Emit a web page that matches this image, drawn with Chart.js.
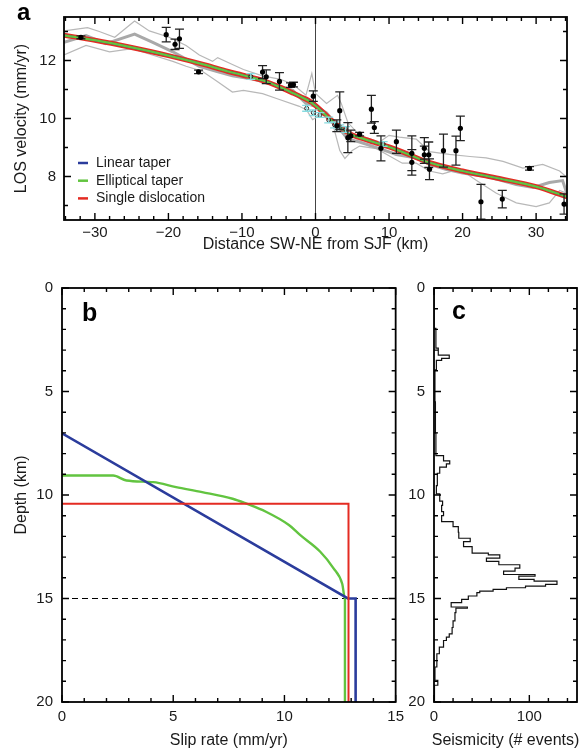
<!DOCTYPE html>
<html lang="en">
  <head>
    <meta charset="UTF-8" />
    <title>SJF slip models</title>
    <script src="https://cdn.jsdelivr.net/npm/chart.js@4.4.0/dist/chart.umd.min.js"></script>
    <style>
      html,
      body {
        margin: 0;
        padding: 0;
        background: #fff;
      }
      .wrap {
        position: relative;
        width: 587px;
        height: 754px;
      }
      canvas {
        position: absolute;
      }
      #chartA { left: 0; top: 0; }
      #chartB { left: 0; top: 270px; }
      #chartC { left: 405px; top: 270px; }
    </style>
  </head>
  <body>
    <div class="wrap">
      <canvas id="chartA" width="587" height="258"></canvas>
      <canvas id="chartB" width="410" height="484"></canvas>
      <canvas id="chartC" width="182" height="484"></canvas>
    </div>
    <script>
      // ---- panel a : LOS velocity profile across the fault ----
      const modelX = [-34.2, -30, -25, -20, -15, -12, -10, -7, -5, -3, -2, -1, 0, 1, 2, 3, 4, 5, 6, 8, 10, 12, 15, 20, 25, 30, 34.2];
      const linearV = [12.87, 12.7, 12.45, 12.17, 11.85, 11.63, 11.5, 11.3, 11.1, 10.87, 10.75, 10.63, 10.45, 10.22, 9.97, 9.76, 9.57, 9.43, 9.34, 9.18, 9.02, 8.83, 8.52, 8.19, 7.93, 7.65, 7.3];
      const ellipV = [12.87, 12.7, 12.45, 12.17, 11.85, 11.63, 11.5, 11.3, 11.1, 10.87, 10.75, 10.62, 10.44, 10.21, 9.97, 9.76, 9.57, 9.43, 9.34, 9.18, 9.02, 8.83, 8.52, 8.19, 7.93, 7.65, 7.3];
      const singleV = [12.87, 12.7, 12.45, 12.17, 11.85, 11.63, 11.5, 11.3, 11.1, 10.87, 10.75, 10.63, 10.45, 10.22, 9.98, 9.77, 9.58, 9.43, 9.34, 9.18, 9.02, 8.83, 8.52, 8.19, 7.93, 7.65, 7.3];

      // grey profiles: mean (thick) and envelope (thin)
      const meanX = [-34.2, -31.2, -28.5, -24.6, -22.2, -19.4, -15.8, -13.5, -11.3, -8.6, -5.8, -3.1, -1.3, 0, 1.5, 3.3, 4.4, 6, 8.7, 11, 13.7, 15.5, 17.7, 20, 23.6, 27.3, 29.6, 31.8, 33.6, 34.2];
      const meanV = [12.63, 12.86, 12.58, 12.91, 12.63, 12.3, 11.8, 11.63, 11.47, 11.36, 11.19, 10.97, 10.52, 10.42, 10.19, 9.64, 9.29, 9.19, 8.96, 8.76, 8.64, 8.42, 8.25, 8.12, 7.98, 7.72, 7.62, 7.79, 7.86, 7.4];
      const upperX = [-34.2, -31, -29.4, -27.3, -24.6, -22.6, -19.9, -17.6, -15.8, -14, -13.3, -11.3, -9.8, -7.2, -4.9, -3.1, -1.3, -0.5, 0, 1.5, 3, 3.5, 4.4, 6, 8.7, 10, 11.4, 13.7, 15.5, 18.2, 21, 23.2, 25.5, 28.2, 30.9, 33.2, 34.2];
      const upperV = [13.02, 13.13, 13.0, 12.8, 13.36, 13.02, 12.8, 12.52, 12.19, 11.97, 12.1, 11.86, 11.69, 11.47, 11.36, 11.19, 10.8, 11.55, 10.86, 10.52, 10.8, 10.52, 9.86, 9.42, 9.19, 9.42, 9.36, 9.29, 8.86, 8.76, 8.69, 8.64, 8.52, 8.29, 8.42, 8.19, 7.96];
      const lowerX = [-34.2, -31.2, -28, -24.9, -22.2, -19.4, -17.6, -15.4, -13.5, -11.3, -9.8, -7.2, -5.3, -2.2, -1.2, -0.4, 1, 2.3, 3.3, 4, 5, 6, 8.3, 9.7, 11.8, 13.7, 15.5, 17.3, 19.6, 21.9, 24.6, 27.3, 30, 31.8, 33.2, 34.2];
      const lowerV = [12.19, 12.52, 12.3, 12.41, 12.19, 11.97, 11.8, 11.63, 11.3, 10.91, 10.97, 10.86, 10.69, 10.42, 10.29, 9.96, 10.19, 9.86, 8.9, 8.62, 8.9, 9.05, 8.96, 8.76, 8.46, 8.46, 8.19, 8.09, 8.26, 7.86, 7.42, 7.09, 6.96, 7.09, 7.52, 7.42];

      // GPS-like points with 1-sigma errors
      const ptX = [-31.9, -20.3, -19.1, -18.5, -15.9, -7.2, -6.7, -4.9, -3.4, -3.0, -0.3, 2.9, 3.3, 4.4, 4.8, 6.0, 7.6, 8.0, 8.9, 11.0, 13.1, 13.1, 14.8, 14.8, 15.4, 15.5, 17.4, 19.1, 19.7, 22.5, 25.4, 29.1, 33.8];
      const ptV = [12.8, 12.89, 12.56, 12.75, 11.61, 11.6, 11.44, 11.28, 11.15, 11.17, 10.77, 9.75, 10.27, 9.34, 9.4, 9.46, 10.32, 9.69, 8.97, 9.2, 8.8, 8.49, 8.97, 8.75, 8.75, 8.25, 8.89, 8.89, 9.66, 7.13, 7.22, 8.28, 7.05];
      const ptErr = [0.05, 0.25, 0.18, 0.33, 0.06, 0.22, 0.24, 0.3, 0.08, 0.08, 0.18, 0.2, 0.65, 0.52, 0.2, 0.06, 0.48, 0.2, 0.43, 0.4, 0.6, 0.44, 0.37, 0.3, 0.44, 0.36, 0.57, 0.5, 0.42, 0.6, 0.3, 0.06, 0.35];
      // cyan points
      const cyX = [-8.8, -1.2, -0.3, 0.6, 1.8, 2.6, 3.3, 4.1, 9.2];
      const cyV = [11.45, 10.35, 10.2, 10.12, 9.95, 9.78, 9.7, 9.62, 9.12];
      const cyErr = [0.1, 0.1, 0.1, 0.08, 0.1, 0.1, 0.08, 0.1, 0.08];

      const aXTicks = [-30, -20, -10, 0, 10, 20, 30];
      const aYTicks = [8, 10, 12];
      const legendNames = ["Linear taper", "Elliptical taper", "Single dislocation"];

      // ---- panel b : slip rate vs depth ----
      const linDepth = [7.02, 15.0, 15.0, 20];
      const linSlip = [0, 12.85, 13.2, 13.2];
      const ellDepth = [9.06, 9.06, 9.3, 9.38, 9.62, 9.86, 10.18, 10.41, 10.81, 11.45, 11.93, 12.73, 13.53, 14.3, 15.0, 20];
      const ellSlip = [0, 2.3, 2.9, 4.1, 5.13, 6.3, 7.67, 8.27, 9.17, 10.2, 10.7, 11.6, 12.2, 12.6, 12.72, 12.72];
      const sglDepth = [10.42, 10.42, 20];
      const sglSlip = [0, 12.88, 12.88];
      const lockDepth = 15;
      const bXTicks = [0, 5, 10, 15];
      const depthTicks = [0, 5, 10, 15, 20];

      // ---- panel c : seismicity histogram (bin top depth, # events) ----
      const seisTop = [0, 1.95, 2.9, 3.24, 3.4, 3.5, 3.95, 5.5, 7.0, 8.1, 8.35, 8.5, 8.65, 8.95, 9.55, 9.95, 10.3, 10.5, 10.8, 11.0, 11.29, 11.53, 11.8, 12.09, 12.25, 12.49, 12.81, 12.89, 13.05, 13.21, 13.37, 13.53, 13.68, 13.84, 13.92, 14.08, 14.16, 14.32, 14.4, 14.48, 14.56, 14.64, 14.72, 14.88, 15.04, 15.2, 15.41, 15.47, 15.68, 16.08, 16.4, 16.71, 16.87, 17.03, 17.35, 17.67, 18.31, 18.95, 19.19, 20];
      const seisCount = [0, 2, 4.5, 16, 8, 2.5, 1, 1.5, 2, 10, 16.5, 13, 6, 3.5, 2.5, 6, 9, 8, 10, 8, 20, 25.5, 26, 38, 31, 40, 57, 69, 55, 68, 90, 85, 73, 106, 89, 105, 129, 117, 96, 76, 62, 48, 45, 36, 29, 18, 35, 23, 22, 20, 19, 16, 13, 10, 5.6, 3, 1, 4, 0.5, 0.5];
      const cXTicks = [0, 100];

      const BLUE = "#2b3c9c";
      const GREEN = "#62c440";
      const RED = "#e42b22";

      Chart.defaults.font.family = "'Liberation Sans', Arial, Helvetica, sans-serif";
      Chart.defaults.color = "#1a1a1a";

      const pairs = (xs, ys) => xs.map((x, i) => ({ x: x, y: ys[i] }));
      const minus = (v) => (v < 0 ? "\u2212" + Math.abs(v) : String(v));
      const fixTicks = (list) => (scale) => {
        scale.ticks = list.map((v) => ({ value: v }));
      };

      // box round the plot with inward ticks on all four sides
      const framePlugin = {
        id: "frame",
        afterDatasetsDraw(chart, args, o) {
          const { ctx, chartArea: a } = chart;
          const sx = chart.scales.x;
          const sy = chart.scales.y;
          ctx.save();
          ctx.strokeStyle = "#000";
          ctx.lineWidth = 1.4;
          ctx.beginPath();
          for (let k = Math.ceil(sx.min / o.xStep - 1e-9); k * o.xStep <= sx.max + 1e-9; k++) {
            const v = k * o.xStep;
            const p = sx.getPixelForValue(v);
            const len = Math.abs(v % o.xMajor) < 1e-9 ? 7 : 4;
            ctx.moveTo(p, a.bottom);
            ctx.lineTo(p, a.bottom - len);
            ctx.moveTo(p, a.top);
            ctx.lineTo(p, a.top + len);
          }
          for (let k = Math.ceil(sy.min / o.yStep - 1e-9); k * o.yStep <= sy.max + 1e-9; k++) {
            const v = k * o.yStep;
            const p = sy.getPixelForValue(v);
            const len = Math.abs(v % o.yMajor) < 1e-9 ? 7 : 4;
            ctx.moveTo(a.left, p);
            ctx.lineTo(a.left + len, p);
            ctx.moveTo(a.right, p);
            ctx.lineTo(a.right - len, p);
          }
          ctx.stroke();
          ctx.lineWidth = 1.8;
          ctx.strokeRect(a.left, a.top, a.right - a.left, a.bottom - a.top);
          ctx.restore();
        },
      };
      Chart.register(framePlugin);

      const baseScale = {
        type: "linear",
        grid: { display: false, drawTicks: false, tickLength: 0 },
        border: { display: false },
      };

      // ================= panel a =================
      const decorA = {
        id: "decorA",
        beforeDatasetsDraw(chart) {
          const { ctx, chartArea: a, scales } = chart;
          const p0 = scales.x.getPixelForValue(0);
          ctx.save();
          ctx.strokeStyle = "#444";
          ctx.lineWidth = 1;
          ctx.beginPath();
          ctx.moveTo(p0, a.top);
          ctx.lineTo(p0, a.bottom);
          ctx.stroke();
          ctx.restore();
        },
        beforeDatasetDraw(chart, args) {
          if (args.index !== 0) return;
          const { ctx, chartArea: a, scales } = chart;
          const bars = (xs, ys, es, color) => {
            ctx.strokeStyle = color;
            ctx.beginPath();
            xs.forEach((x, i) => {
              const px = scales.x.getPixelForValue(x);
              const t = scales.y.getPixelForValue(ys[i] + es[i]);
              const b = scales.y.getPixelForValue(ys[i] - es[i]);
              ctx.moveTo(px, t);
              ctx.lineTo(px, b);
              ctx.moveTo(px - 4.5, t);
              ctx.lineTo(px + 4.5, t);
              ctx.moveTo(px - 4.5, b);
              ctx.lineTo(px + 4.5, b);
            });
            ctx.stroke();
          };
          ctx.save();
          ctx.beginPath();
          ctx.rect(a.left, a.top, a.right - a.left, a.bottom - a.top);
          ctx.clip();
          ctx.lineWidth = 1.3;
          bars(cyX, cyV, cyErr, "#86dbe0");
          bars(ptX, ptV, ptErr, "#222");
          ctx.restore();
        },
        afterDraw(chart) {
          const { ctx } = chart;
          ctx.save();
          // legend
          const colors = [BLUE, GREEN, RED];
          ctx.font = "14px 'Liberation Sans', Arial, sans-serif";
          ctx.textBaseline = "middle";
          ctx.fillStyle = "#1a1a1a";
          legendNames.forEach((name, i) => {
            const y = 163 + i * 17.7;
            ctx.strokeStyle = colors[i];
            ctx.lineWidth = 2.5;
            ctx.beginPath();
            ctx.moveTo(78, y);
            ctx.lineTo(88, y);
            ctx.stroke();
            ctx.fillText(name, 96, y);
          });
          ctx.font = "bold 24px 'Liberation Sans', Arial, sans-serif";
          ctx.textBaseline = "alphabetic";
          ctx.fillStyle = "#000";
          ctx.fillText("a", 17, 20);
          ctx.restore();
        },
      };

      new Chart(document.getElementById("chartA"), {
        type: "scatter",
        data: {
          datasets: [
            { label: "data", data: pairs(ptX, ptV), pointRadius: 2.6, pointBackgroundColor: "#000", pointBorderWidth: 0 },
            { label: "cyan", data: pairs(cyX, cyV), pointRadius: 2, pointBackgroundColor: "rgba(0,0,0,0)", pointBorderColor: "#222", pointBorderWidth: 1 },
            { label: legendNames[1], data: pairs(modelX, ellipV), showLine: true, borderColor: GREEN, borderWidth: 2.2, pointRadius: 0, cubicInterpolationMode: "monotone" },
            { label: legendNames[0], data: pairs(modelX, linearV), showLine: true, borderColor: BLUE, borderWidth: 2, pointRadius: 0, cubicInterpolationMode: "monotone" },
            { label: legendNames[2], data: pairs(modelX, singleV), showLine: true, borderColor: RED, borderWidth: 5, pointRadius: 0, cubicInterpolationMode: "monotone" },
            { label: "mean", data: pairs(meanX, meanV), showLine: true, borderColor: "#a9a9a9", borderWidth: 3, pointRadius: 0 },
            { label: "upper", data: pairs(upperX, upperV), showLine: true, borderColor: "#b8b8b8", borderWidth: 1.2, pointRadius: 0 },
            { label: "lower", data: pairs(lowerX, lowerV), showLine: true, borderColor: "#b8b8b8", borderWidth: 1.2, pointRadius: 0 },
          ],
        },
        options: {
          responsive: false,
          animation: false,
          events: [],
          layout: { padding: { top: 10, right: 20, bottom: 3.4, left: 0 } },
          plugins: {
            legend: { display: false },
            tooltip: { enabled: false },
            frame: { xStep: 2, xMajor: 10, yStep: 1, yMajor: 2 },
          },
          scales: {
            x: {
              ...baseScale,
              min: -34.2,
              max: 34.2,
              afterBuildTicks: fixTicks(aXTicks),
              afterFit: (s) => { s.height = 34.6; },
              ticks: { padding: 4, font: { size: 15 }, callback: minus },
              title: { display: true, text: "Distance SW-NE from SJF (km)", font: { size: 16 }, padding: 0 },
            },
            y: {
              ...baseScale,
              min: 6.5,
              max: 13.5,
              afterBuildTicks: fixTicks(aYTicks),
              afterFit: (s) => { s.width = 64; },
              ticks: { padding: 8, font: { size: 15 } },
              title: { display: true, text: "LOS velocity (mm/yr)", font: { size: 16 }, padding: { top: 12, bottom: 0 } },
            },
          },
        },
        plugins: [decorA],
      });

      // ================= panel b =================
      const decorB = {
        id: "decorB",
        beforeDatasetsDraw(chart) {
          const { ctx, chartArea: a, scales } = chart;
          const p = scales.y.getPixelForValue(lockDepth);
          ctx.save();
          ctx.strokeStyle = "#000";
          ctx.lineWidth = 1.2;
          ctx.setLineDash([6, 4]);
          ctx.beginPath();
          ctx.moveTo(a.left, p);
          ctx.lineTo(a.right, p);
          ctx.stroke();
          ctx.restore();
        },
        afterDraw(chart) {
          const { ctx, chartArea: a } = chart;
          ctx.save();
          ctx.font = "bold 25px 'Liberation Sans', Arial, sans-serif";
          ctx.fillStyle = "#000";
          ctx.fillText("b", a.left + 20, a.top + 33);
          ctx.restore();
        },
      };

      new Chart(document.getElementById("chartB"), {
        type: "scatter",
        data: {
          datasets: [
            { label: "Single dislocation", data: pairs(sglSlip, sglDepth), showLine: true, borderColor: RED, borderWidth: 2, pointRadius: 0 },
            { label: "Linear taper", data: pairs(linSlip, linDepth), showLine: true, borderColor: BLUE, borderWidth: 2.6, pointRadius: 0 },
            { label: "Elliptical taper", data: pairs(ellSlip, ellDepth), showLine: true, borderColor: GREEN, borderWidth: 2.4, pointRadius: 0, cubicInterpolationMode: "monotone" },
          ],
        },
        options: {
          responsive: false,
          animation: false,
          events: [],
          layout: { padding: { top: 14, right: 13, bottom: 3.4, left: 0 } },
          plugins: {
            legend: { display: false },
            tooltip: { enabled: false },
            frame: { xStep: 1, xMajor: 5, yStep: 1, yMajor: 5 },
          },
          scales: {
            x: {
              ...baseScale,
              min: 0,
              max: 15,
              afterBuildTicks: fixTicks(bXTicks),
              afterFit: (s) => { s.height = 48.6; },
              ticks: { padding: 6, font: { size: 15 } },
              title: { display: true, text: "Slip rate (mm/yr)", font: { size: 16 }, padding: 0 },
            },
            y: {
              ...baseScale,
              min: 0,
              max: 20,
              reverse: true,
              afterBuildTicks: fixTicks(depthTicks),
              afterFit: (s) => { s.width = 62; },
              ticks: { padding: 9, font: { size: 15 } },
              title: { display: true, text: "Depth (km)", font: { size: 16 }, padding: { top: 12, bottom: 0 } },
            },
          },
        },
        plugins: [decorB],
      });

      // ================= panel c =================
      const decorC = {
        id: "decorC",
        afterDraw(chart) {
          const { ctx, chartArea: a } = chart;
          ctx.save();
          ctx.font = "bold 25px 'Liberation Sans', Arial, sans-serif";
          ctx.fillStyle = "#000";
          ctx.fillText("c", a.left + 18, a.top + 31);
          ctx.font = "16px 'Liberation Sans', Arial, sans-serif";
          ctx.fillStyle = "#1a1a1a";
          ctx.textAlign = "center";
          ctx.textBaseline = "middle";
          ctx.fillText("Seismicity (# events)", (a.left + a.right) / 2, a.bottom + 39);
          ctx.restore();
        },
      };

      new Chart(document.getElementById("chartC"), {
        type: "scatter",
        data: {
          datasets: [
            { label: "events", data: pairs(seisCount, seisTop), showLine: true, stepped: "after", borderColor: "#111", borderWidth: 1.2, pointRadius: 0 },
          ],
        },
        options: {
          responsive: false,
          animation: false,
          events: [],
          layout: { padding: { top: 14, right: 10, bottom: 3.4, left: 0 } },
          plugins: {
            legend: { display: false },
            tooltip: { enabled: false },
            frame: { xStep: 20, xMajor: 100, yStep: 1, yMajor: 5 },
          },
          scales: {
            x: {
              ...baseScale,
              min: 0,
              max: 150,
              afterBuildTicks: fixTicks(cXTicks),
              afterFit: (s) => { s.height = 48.6; },
              ticks: { padding: 6, font: { size: 15 } },
            },
            y: {
              ...baseScale,
              min: 0,
              max: 20,
              reverse: true,
              afterBuildTicks: fixTicks(depthTicks),
              afterFit: (s) => { s.width = 29; },
              ticks: { padding: 9, font: { size: 15 } },
            },
          },
        },
        plugins: [decorC],
      });
    </script>
  </body>
</html>
